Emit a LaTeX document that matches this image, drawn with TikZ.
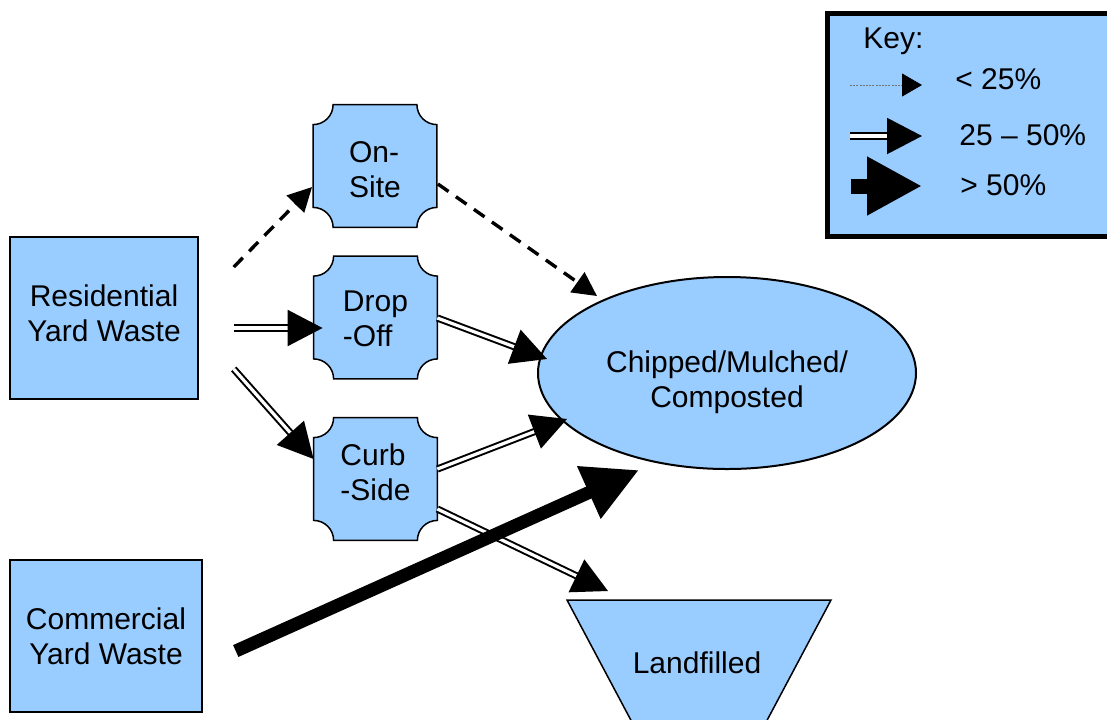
\documentclass[tikz,border=0pt]{standalone}
\usepackage{fontspec}
\setmainfont{Liberation Sans}
\usetikzlibrary{arrows.meta,calc,shapes.geometric,backgrounds}
\definecolor{boxblue}{HTML}{99CCFF}

% outline of a box with concave (notched) corners, taken from a node's bounds
\newcommand\notchoutline[1]{%
  \draw[blk] let \p1=(#1.north west), \p2=(#1.south east) in
    (\x1+10pt,\y1) -- (\x2-10pt,\y1) arc[start angle=180,end angle=270,radius=10pt]
    -- (\x2,\y2+10pt) arc[start angle=90,end angle=180,radius=10pt]
    -- (\x1+10pt,\y2) arc[start angle=0,end angle=90,radius=10pt]
    -- (\x1,\y1-10pt) arc[start angle=270,end angle=360,radius=10pt] -- cycle;}

% double-line connector with a solid head
\newcommand\dbllink[2]{%
  \draw[dblline] (#1) -- ($(#2)!15pt!(#1)$);
  \draw[dblhead] ($(#2)!17.5pt!(#1)$) -- (#2);}

\begin{document}
\begin{tikzpicture}[x=0.5pt,y=-0.5pt,
  font=\fontsize{15}{17.5}\selectfont,
  blk/.style={draw=black, line width=0.75pt, fill=boxblue},
  srcbox/.style={blk, rectangle, inner sep=0pt},
  notchbox/.style={rectangle, inner sep=0pt, minimum width=61.5pt, minimum height=61pt},
  txt/.style={inner sep=0pt, align=center},
  ltxt/.style={inner sep=0pt, align=left},
  dashlink/.style={line width=1.7pt, dash pattern=on 6.5pt off 4.5pt, -{Triangle[length=12pt,width=12pt]}},
  dblline/.style={double=white, double distance=1.6pt, line width=1pt},
  dblhead/.style={line width=1pt, -{Triangle[length=17.5pt,width=18pt]}},
  heavylink/.style={line width=6.5pt, -{Triangle[length=27.5pt,width=27pt]}},
  keydot/.style={line width=0.4pt, draw=black!55, dash pattern=on 1pt off 0.6pt,
    -{Triangle[length=10pt,width=11.5pt,color=black]}},
  keytext/.style={anchor=base west, inner sep=0pt}]
\useasboundingbox (0,0) rectangle (1107,719);

% sources
\node[srcbox, minimum width=94pt, minimum height=81pt] (res) at (104,318) {};
\node[txt] (res-t) at (104,313) {Residential\\Yard Waste};
\node[srcbox, minimum width=96pt, minimum height=76pt] (com) at (106,636) {};
\node[txt] (com-t) at (106,636) {Commercial\\Yard Waste};

% collection methods
\node[notchbox] (onsite) at (375,166) {};
\node[ltxt] (onsite-t) at (375,170) {On-\\Site};
\node[notchbox] (dropoff) at (375.5,317.5) {};
\node[ltxt] (dropoff-t) at (375.5,319) {Drop\\-Off};
\node[notchbox] (curb) at (375.5,479) {};
\node[ltxt] (curb-t) at (375.5,472) {Curb\\-Side};

% destinations
\node[blk, ellipse, line width=1pt, inner sep=0pt, minimum width=189pt, minimum height=96pt]
  (chip) at (727,373) {};
\node[txt] (chip-t) at (727,382) {Chipped/Mulched/\\Composted};
\node[inner sep=0pt] (land) at (697,663) {Landfilled};

\begin{pgfonlayer}{background}
  \notchoutline{onsite}
  \notchoutline{dropoff}
  \notchoutline{curb}
  \draw[blk] (567,600) -- (831,600) -- (764,726) -- (634,726) -- cycle;
\end{pgfonlayer}

% connector end points
\coordinate (a1s) at ([shift={(35,-51)}]res.east);
\coordinate (a1e) at ([shift={(-1,21)}]onsite.west);
\coordinate (a2s) at ([shift={(1,18)}]onsite.east);
\coordinate (a2e) at ([shift={(-130,-77)}]chip.center);
\coordinate (a3s) at ([shift={(35,10)}]res.east);
\coordinate (a3e) at ([shift={(9,10.5)}]dropoff.west);
\coordinate (a4s) at ([shift={(0,0.5)}]dropoff.east);
\coordinate (a4e) at ([shift={(-180,-14)}]chip.center);
\coordinate (a5s) at ([shift={(35,51)}]res.east);
\coordinate (a5e) at ([shift={(0,-20)}]curb.west);
\coordinate (a6s) at ([shift={(0,-10)}]curb.east);
\coordinate (a6e) at ([shift={(-160,46)}]chip.center);
\coordinate (a7s) at ([shift={(0,30)}]curb.east);
\coordinate (a7e) at ([shift={(-89,-72)}]land.center);
\coordinate (a8s) at ([shift={(33,15)}]com.east);
\coordinate (a8e) at ([shift={(-88,97)}]chip.center);

% flows
\draw[dashlink] (a1s) -- (a1e);
\draw[dashlink] (a2s) -- (a2e);
\dbllink{a3s}{a3e}
\dbllink{a4s}{a4e}
\dbllink{a5s}{a5e}
\dbllink{a6s}{a6e}
\dbllink{a7s}{a7e}
\draw[heavylink] (a8s) -- (a8e);

% key
\draw[line width=2.5pt, fill=boxblue] (827.5,13.5) rectangle (1125,236);
\node[keytext] (keyttl) at (863,48) {Key:};
\coordinate (k1s) at (850,85);  \coordinate (k1e) at (922,85);
\coordinate (k2s) at (850,136); \coordinate (k2e) at (922,136);
\coordinate (k3s) at (851,186); \coordinate (k3e) at (922,186);
\draw[keydot] (k1s) -- (k1e);
\dbllink{k2s}{k2e}
\draw[line width=7.5pt, -{Triangle[length=27.5pt,width=27.5pt]}] (k3s) -- (k3e);
\node[keytext] (k1t) at (955,89) {< 25\%};
\node[keytext] (k2t) at (959,145) {25 – 50\%};
\node[keytext] (k3t) at (960,195) {> 50\%};
\end{tikzpicture}
\end{document}
